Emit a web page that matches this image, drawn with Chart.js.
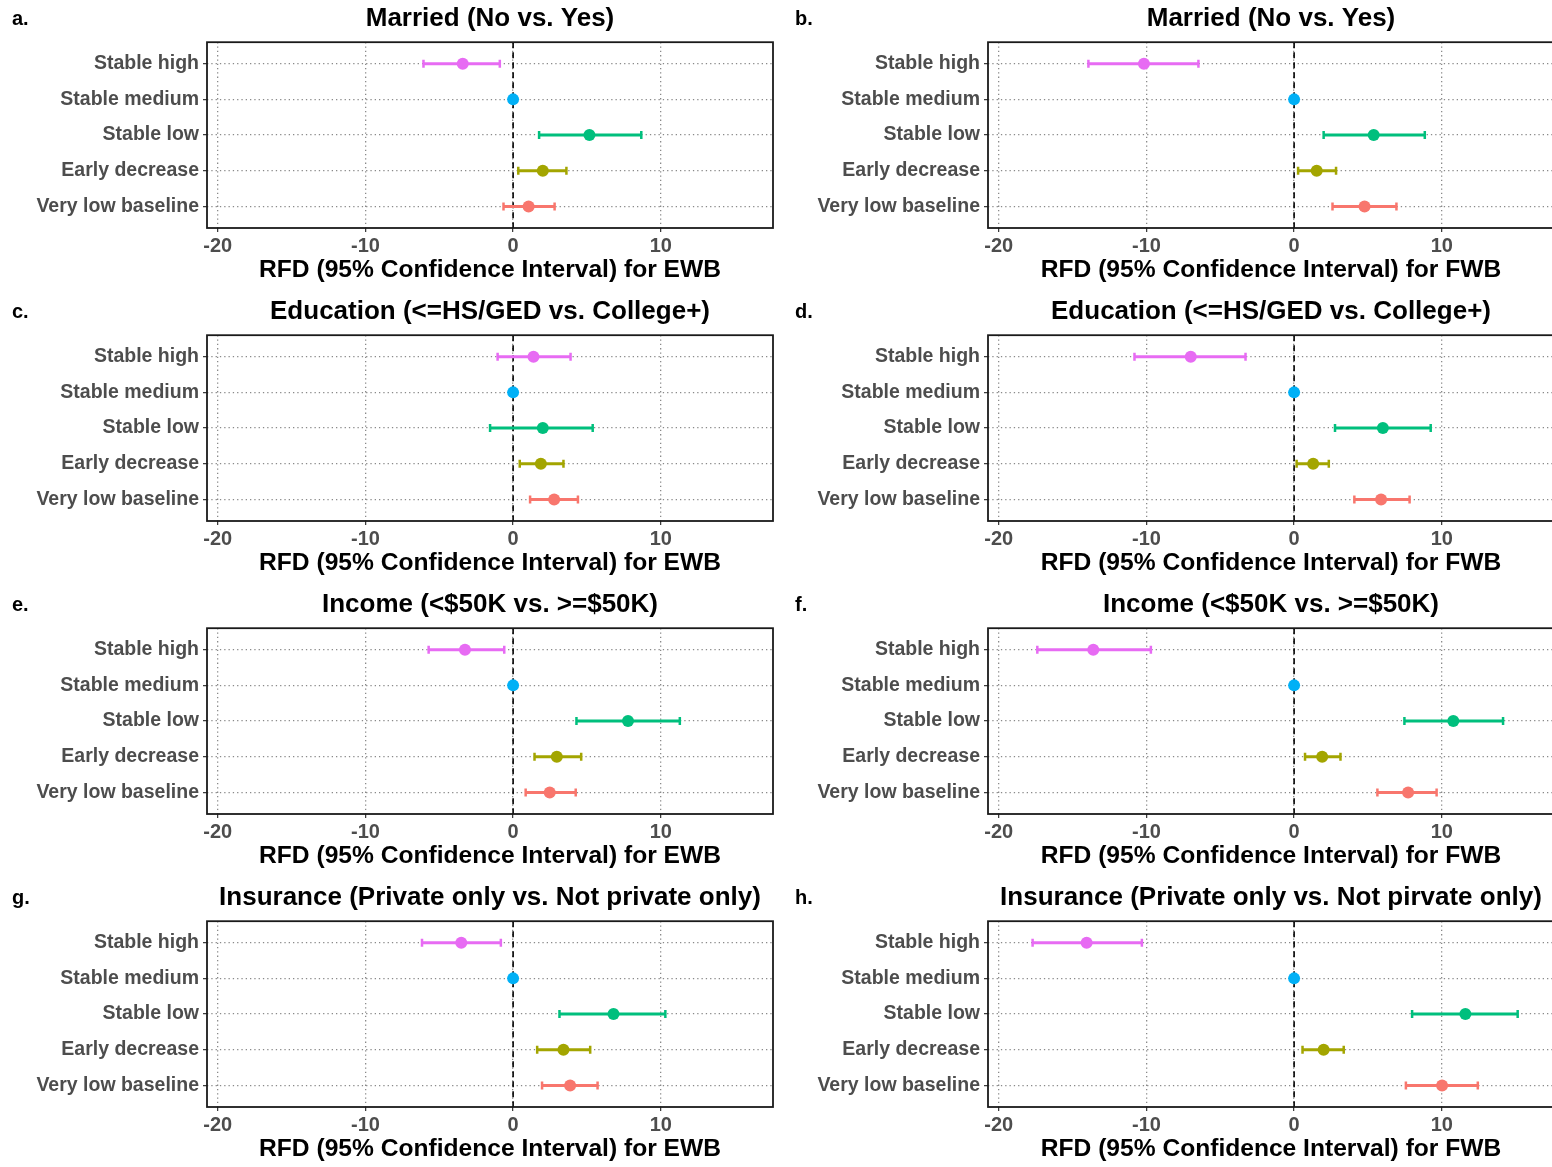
<!DOCTYPE html>
<html>
<head>
<meta charset="utf-8">
<script src="https://cdn.jsdelivr.net/npm/chart.js@4/dist/chart.umd.min.js"></script>
<style>
    body { margin: 0; background: #fff; overflow: hidden; }
    #wrap { position: relative; width: 1552px; height: 1167px; overflow: hidden; }
    .panel { position: absolute; width: 781px; height: 293px; }
    .letter { position: absolute; font: bold 20px 'Liberation Sans', Arial, sans-serif; line-height: 20px; color: #000; }
</style>
</head>
<body>
<div id="wrap"></div>
<script>
// categories (top to bottom)
const groups = ['Stable high', 'Stable medium', 'Stable low', 'Early decrease', 'Very low baseline'];
const groupColors = ['#E76BF3', '#00B0F6', '#00BF7D', '#A3A500', '#F8766D'];
const xTicks = [-20, -10, 0, 10];

// a. Married, EWB
const marriedEwbEst = [-3.41, 0, 5.17, 2.01, 1.05];
const marriedEwbLow = [-6.07, null, 1.76, 0.35, -0.65];
const marriedEwbHigh = [-0.90, null, 8.68, 3.61, 2.81];
// b. Married, FWB
const marriedFwbEst = [-10.17, 0, 5.39, 1.53, 4.77];
const marriedFwbLow = [-13.93, null, 2.00, 0.27, 2.60];
const marriedFwbHigh = [-6.48, null, 8.85, 2.84, 6.93];
// c. Education, EWB
const eduEwbEst = [1.38, 0, 2.01, 1.88, 2.78];
const eduEwbLow = [-1.05, null, -1.56, 0.45, 1.15];
const eduEwbHigh = [3.89, null, 5.39, 3.41, 4.39];
// d. Education, FWB
const eduFwbEst = [-7.00, 0, 6.01, 1.29, 5.89];
const eduFwbLow = [-10.81, null, 2.77, 0.17, 4.08];
const eduFwbHigh = [-3.29, null, 9.25, 2.35, 7.82];
// e. Income, EWB
const incomeEwbEst = [-3.26, 0, 7.78, 2.96, 2.48];
const incomeEwbLow = [-5.72, null, 4.29, 1.45, 0.85];
const incomeEwbHigh = [-0.60, null, 11.29, 4.61, 4.24];
// f. Income, FWB
const incomeFwbEst = [-13.60, 0, 10.78, 1.90, 7.72];
const incomeFwbLow = [-17.39, null, 7.47, 0.74, 5.64];
const incomeFwbHigh = [-9.70, null, 14.15, 3.14, 9.65];
// g. Insurance, EWB
const insEwbEst = [-3.51, 0, 6.80, 3.41, 3.86];
const insEwbLow = [-6.17, null, 3.14, 1.63, 1.96];
const insEwbHigh = [-0.83, null, 10.31, 5.22, 5.72];
// h. Insurance, FWB
const insFwbEst = [-14.05, 0, 11.60, 2.00, 10.02];
const insFwbLow = [-17.71, null, 7.99, 0.57, 7.57];
const insFwbHigh = [-10.31, null, 15.14, 3.36, 12.44];

const ewbTitle = 'RFD (95% Confidence Interval) for EWB';
const fwbTitle = 'RFD (95% Confidence Interval) for FWB';

const panels = [
    { letter: 'a.', title: 'Married (No vs. Yes)', xTitle: ewbTitle, est: marriedEwbEst, low: marriedEwbLow, high: marriedEwbHigh },
    { letter: 'b.', title: 'Married (No vs. Yes)', xTitle: fwbTitle, est: marriedFwbEst, low: marriedFwbLow, high: marriedFwbHigh },
    { letter: 'c.', title: 'Education (<=HS/GED vs. College+)', xTitle: ewbTitle, est: eduEwbEst, low: eduEwbLow, high: eduEwbHigh },
    { letter: 'd.', title: 'Education (<=HS/GED vs. College+)', xTitle: fwbTitle, est: eduFwbEst, low: eduFwbLow, high: eduFwbHigh },
    { letter: 'e.', title: 'Income (<$50K vs. >=$50K)', xTitle: ewbTitle, est: incomeEwbEst, low: incomeEwbLow, high: incomeEwbHigh },
    { letter: 'f.', title: 'Income (<$50K vs. >=$50K)', xTitle: fwbTitle, est: incomeFwbEst, low: incomeFwbLow, high: incomeFwbHigh },
    { letter: 'g.', title: 'Insurance (Private only vs. Not private only)', xTitle: ewbTitle, est: insEwbEst, low: insEwbLow, high: insEwbHigh },
    { letter: 'h.', title: 'Insurance (Private only vs. Not pirvate only)', xTitle: fwbTitle, est: insFwbEst, low: insFwbLow, high: insFwbHigh }
];

Chart.defaults.font.family = "'Liberation Sans', Arial, sans-serif";
Chart.defaults.animation = false;

// black frame round the panel
const frame = {
    id: 'frame',
    afterDatasetsDraw(chart) {
        const a = chart.chartArea;
        const ctx = chart.ctx;
        ctx.save();
        ctx.strokeStyle = '#1a1a1a';
        ctx.lineWidth = 1.8;
        ctx.strokeRect(a.left, a.top, a.right - a.left, a.bottom - a.top);
        ctx.restore();
    }
};

function buildDatasets(p) {
    const sets = [];
    // points on top
    sets.push({
        type: 'scatter',
        data: p.est.map((v, i) => ({ x: v, y: i + 1 })),
        backgroundColor: groupColors,
        borderWidth: 0,
        pointRadius: 6
    });
    // confidence intervals with caps
    p.est.forEach((v, i) => {
        if (p.low[i] === null) return;
        sets.push({
            type: 'line',
            data: [{ x: p.low[i], y: i + 1 }, { x: p.high[i], y: i + 1 }],
            borderColor: groupColors[i],
            borderWidth: 3,
            pointStyle: 'line',
            rotation: 90,
            pointRadius: 4,
            pointBorderWidth: 2.5,
            pointBorderColor: groupColors[i]
        });
    });
    // dashed reference line at 0
    sets.push({
        type: 'line',
        data: [{ x: 0, y: 0.4 }, { x: 0, y: 5.6 }],
        borderColor: '#000',
        borderWidth: 1.6,
        borderDash: [6, 4],
        pointRadius: 0
    });
    return sets;
}

function drawPanel(p, idx) {
    const col = idx % 2;
    const row = Math.floor(idx / 2);
    const wrap = document.getElementById('wrap');

    const box = document.createElement('div');
    box.className = 'panel';
    box.style.left = (col * 781) + 'px';
    box.style.top = (row * 293) + 'px';
    const canvas = document.createElement('canvas');
    box.appendChild(canvas);
    wrap.appendChild(box);

    const lab = document.createElement('div');
    lab.className = 'letter';
    lab.textContent = p.letter;
    lab.style.left = (col === 0 ? 12 : 795) + 'px';
    lab.style.top = (row * 293 + 8) + 'px';
    wrap.appendChild(lab);

    new Chart(canvas, {
        data: { datasets: buildDatasets(p) },
        options: {
            responsive: true,
            maintainAspectRatio: false,
            layout: { padding: { left: 0, right: 8, top: 0, bottom: 0 } },
            plugins: {
                legend: { display: false },
                tooltip: { enabled: false },
                title: {
                    display: true,
                    text: p.title,
                    fullSize: false,
                    color: '#000',
                    font: { size: 26, weight: 'bold' },
                    padding: { top: 3, bottom: 8 }
                }
            },
            scales: {
                x: {
                    type: 'linear',
                    min: -20.73,
                    max: 17.6,
                    afterBuildTicks: s => { s.ticks = xTicks.map(v => ({ value: v })); },
                    afterFit: s => { s.height = 65; },
                    ticks: {
                        color: '#4D4D4D',
                        font: { size: 20, weight: 'bold', lineHeight: 1 },
                        padding: 4,
                        maxRotation: 0
                    },
                    grid: {
                        color: '#8a8a8a',
                        lineWidth: 1.3,
                        tickLength: 4,
                        tickColor: '#333',
                        tickWidth: 1.2
                    },
                    border: { display: false, dash: [1.3, 3] },
                    title: {
                        display: true,
                        text: p.xTitle,
                        color: '#000',
                        font: { size: 24.6, weight: 'bold' },
                        padding: { top: 0, bottom: 8 }
                    }
                },
                y: {
                    type: 'linear',
                    reverse: true,
                    min: 0.4,
                    max: 5.6,
                    afterBuildTicks: s => { s.ticks = groups.map((g, i) => ({ value: i + 1 })); },
                    afterFit: s => { s.width = 207; },
                    ticks: {
                        color: '#4D4D4D',
                        font: { size: 19.5, weight: 'bold' },
                        padding: 4,
                        callback: v => groups[v - 1]
                    },
                    grid: {
                        color: '#8a8a8a',
                        lineWidth: 1.3,
                        tickLength: 4,
                        tickColor: '#333',
                        tickWidth: 1.2
                    },
                    border: { display: false, dash: [1.3, 3] }
                }
            }
        },
        plugins: [frame]
    });
}

panels.forEach(drawPanel);
</script>
</body>
</html>
